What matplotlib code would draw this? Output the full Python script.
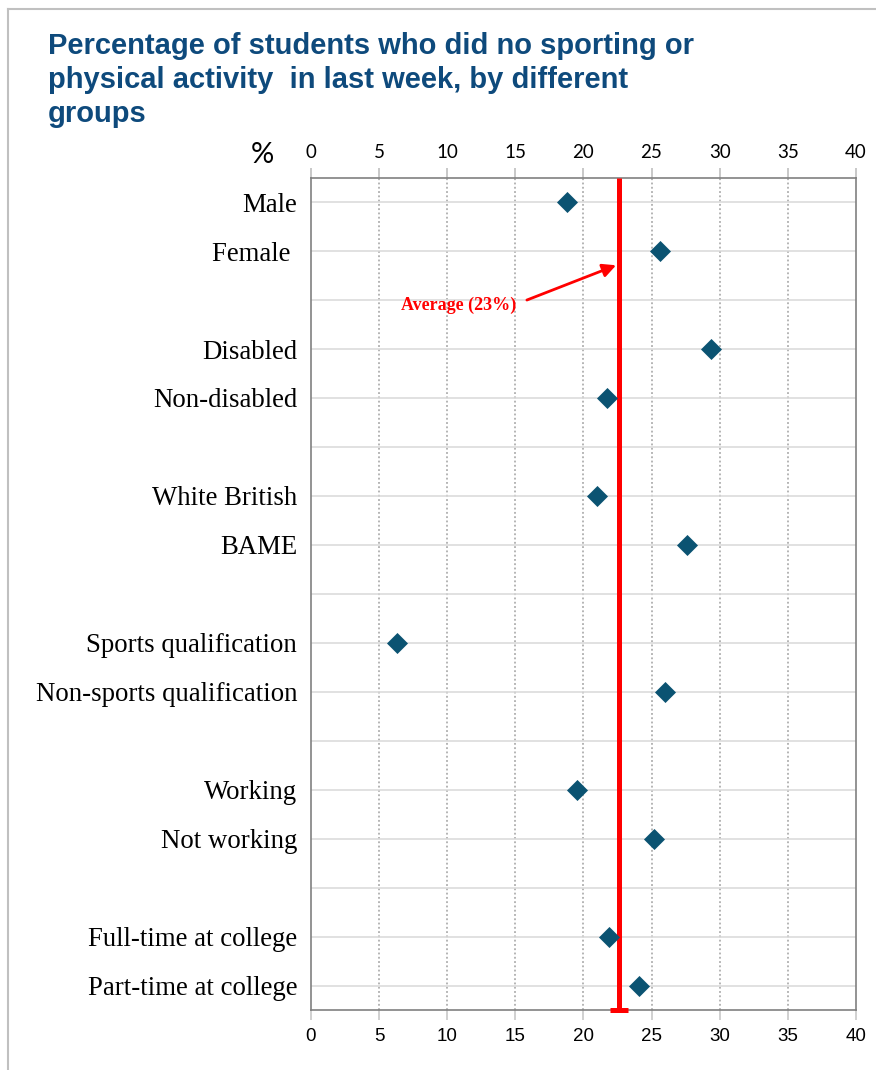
import numpy as np
import matplotlib.pyplot as plt
from matplotlib.lines import Line2D

# groups, blank strings are spacer rows between the pairs
groups = ['Male', 'Female ', '',
          'Disabled', 'Non-disabled', '',
          'White British', 'BAME', '',
          'Sports qualification', 'Non-sports qualification', '',
          'Working', 'Not working', '',
          'Full-time at college', 'Part-time at college']
pct_none = [18.8, 25.6, np.nan,
            29.4, 21.7, np.nan,
            21.0, 27.6, np.nan,
            6.3, 26.0, np.nan,
            19.5, 25.2, np.nan,
            21.9, 24.1]
average = 22.6
xticks = [0, 5, 10, 15, 20, 25, 30, 35, 40]

title = ('Percentage of students who did no sporting or\n'
         'physical activity  in last week, by different\n'
         'groups')

fig = plt.figure(figsize=(8.76, 10.7), dpi=100)
ax = fig.add_axes([0.355, 0.056, 0.622, 0.778])

y = np.arange(len(groups))
ax.set_ylim(len(groups) - 0.5, -0.5)
ax.set_xlim(0, 40)

# grid: dotted verticals, light solid rows
for t in xticks[1:-1]:
    ax.axvline(t, color='#a0a0a0', lw=1.1, ls=(0, (1.2, 1.6)), zorder=1)
for yy in y:
    ax.axhline(yy, color='#d9d9d9', lw=1.1, zorder=1)

ax.scatter(pct_none, y, marker='D', s=115, color='#0b5372', zorder=4, linewidths=0)

# average line with a cap at the bottom
ax.plot([average, average], [-0.5, len(groups) - 0.5], color='#ff0000', lw=3.6,
        zorder=3, solid_capstyle='butt', clip_on=False)
ax.plot([average], [len(groups) - 0.5], marker='_', ms=13, mew=3.6, color='#ff0000',
        zorder=3, clip_on=False)
ax.text(15.1, 2.1, 'Average (%.0f%%)' % average, color='#ff0000', fontsize=13,
        fontweight='bold', family='Liberation Serif', ha='right', va='center')
ax.annotate('', xy=(average - 0.2, 1.29), xytext=(15.85, 2.0),
            arrowprops=dict(arrowstyle='-|>', color='#ff0000', lw=2, mutation_scale=20,
                            shrinkA=0, shrinkB=0))

ax.set_yticks(y)
ax.set_yticklabels(groups, family='Liberation Serif', fontsize=19.3)
ax.tick_params(axis='y', length=0, pad=10)

ax.set_xticks(xticks)
ax.set_xticklabels([str(t) for t in xticks], family='Liberation Sans', fontsize=13.5)
ax.tick_params(axis='x', which='both', top=True, labeltop=False, length=7,
               color='#c8c8c8', width=1.2, pad=6)

# second axis on top for the upper labels
top = ax.secondary_xaxis('top')
top.set_xticks(xticks)
top.set_xticklabels([str(t) for t in xticks], family='Lato', fontsize=13.5)
top.tick_params(length=7, color='#c8c8c8', width=1.2, pad=5)
top.spines['top'].set_visible(False)

for s in ax.spines.values():
    s.set_color('#808080')
    s.set_linewidth(1.2)

fig.text(262 / 876, 1 - 155 / 1070, '%', fontsize=21, family='Lato', ha='center', va='center')
fig.text(48 / 876, 1 - 32 / 1070, title, fontsize=21, fontweight='bold', color='#0e4a7c',
         family='Liberation Sans', ha='left', va='top', linespacing=1.27)

# thin frame along the top and left edges
fig.add_artist(Line2D([8 / 876, 1], [1 - 9 / 1070, 1 - 9 / 1070], color='#c0c0c0', lw=1.5))
fig.add_artist(Line2D([8 / 876, 8 / 876], [0, 1 - 9 / 1070], color='#c0c0c0', lw=1.5))

fig.savefig('out.png', dpi=100)
